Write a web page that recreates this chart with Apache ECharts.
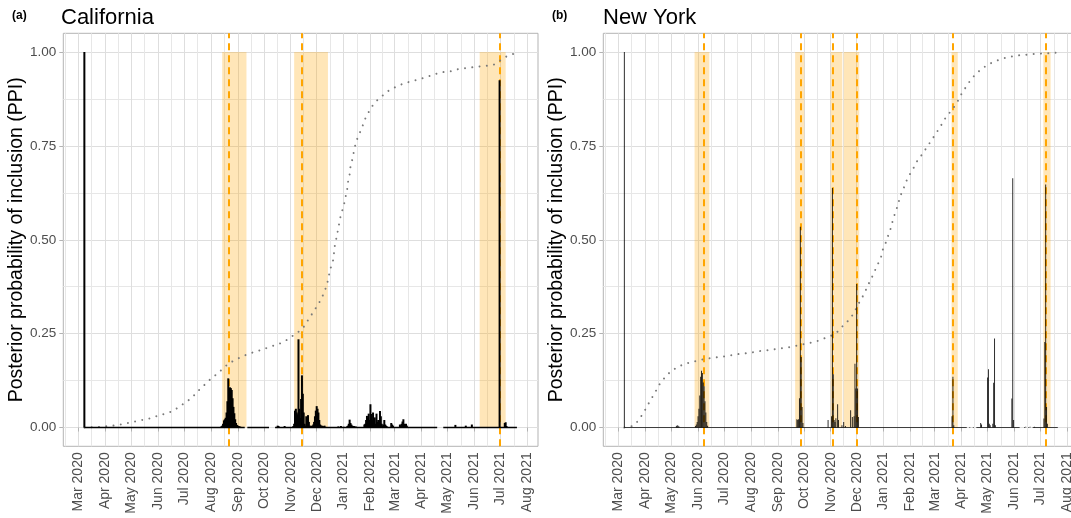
<!DOCTYPE html>
<html>
<head>
<meta charset="utf-8">
<script src="https://cdn.jsdelivr.net/npm/echarts@6/dist/echarts.min.js"></script>
<style>
html,body{margin:0;padding:0;background:#ffffff;}
#chart{width:1071px;height:518px;}
</style>
</head>
<body>
<div id="chart"></div>
<script>
// ---------------- data (x = days since 1 March 2020) ----------------
const xTickLabels = ['Mar 2020','Apr 2020','May 2020','Jun 2020','Jul 2020','Aug 2020','Sep 2020','Oct 2020',
  'Nov 2020','Dec 2020','Jan 2021','Feb 2021','Mar 2021','Apr 2021','May 2021','Jun 2021','Jul 2021','Aug 2021'];
const yTickValues = [0, 0.25, 0.5, 0.75, 1];
const yMinorValues = [0.125, 0.375, 0.625, 0.875];
const xRangeDays = [-17.3, 530.3];
const yRange = [-0.05, 1.05];

const panelTags = ['(a)', '(b)'];
const panelTitles = ['California', 'New York'];
const yTitle = 'Posterior probability of inclusion (PPI)';

// California: daily PPI (non-zero days)
const caPpi = [[7,1.0],
  [165,0.003],[166,0.005],[167,0.01],[168,0.019],[169,0.022],[170,0.026],[171,0.04],[172,0.07],[173,0.131],
  [174,0.095],[175,0.107],[176,0.105],[177,0.1],[178,0.078],[179,0.055],[180,0.038],[181,0.022],[182,0.012],
  [183,0.007],[184,0.005],[185,0.004],[186,0.003],[187,0.002],
  [230,0.005],[231,0.004],[238,0.004],
  [248,0.004],[249,0.01],[250,0.045],[251,0.05],[252,0.04],[253,0.035],[254,0.235],[255,0.05],[256,0.025],
  [257,0.076],[258,0.139],[259,0.09],[260,0.04],[261,0.01],[262,0.005],[263,0.03],[264,0.005],[265,0.033],
  [266,0.015],[267,0.005],[268,0.003],[269,0.005],[270,0.004],[271,0.008],[272,0.015],[273,0.03],[274,0.045],
  [275,0.057],[276,0.05],[277,0.04],[278,0.02],[279,0.008],[280,0.005],[281,0.005],[282,0.004],[283,0.003],
  [284,0.005],[285,0.002],
  [300,0.003],[303,0.004],[306,0.002],
  [310,0.003],[311,0.005],[312,0.01],[313,0.021],[314,0.012],[315,0.008],[316,0.005],[318,0.004],[320,0.003],
  [330,0.008],[331,0.01],[332,0.02],[333,0.031],[334,0.025],[335,0.037],[336,0.02],[337,0.062],[338,0.036],
  [339,0.02],[340,0.04],[341,0.015],[342,0.027],[343,0.01],[344,0.037],[345,0.015],[346,0.02],[347,0.01],
  [348,0.044],[349,0.03],[350,0.01],[351,0.005],[352,0.008],[353,0.02],[354,0.008],[355,0.005],[356,0.003],
  [361,0.012],[362,0.008],[363,0.005],[371,0.008],[372,0.005],[373,0.01],[374,0.016],[375,0.022],[376,0.01],
  [377,0.008],[378,0.01],[379,0.005],
  [435,0.007],[447,0.005],[454,0.008],[486,0.925],[492,0.012],[493,0.014],[494,0.004]];
// California: stretches of days with data (zero baseline)
const caBaseline = [[7,192],[195,220],[227,414],[421,506]];
// California: cumulative curve (dotted)
const caCum = [[7,0],[20,0.001],[37,0.004],[46,0.007],[55,0.011],[64,0.015],[73,0.02],[82,0.024],[90,0.03],
  [99,0.036],[108,0.043],[115,0.053],[123,0.066],[131,0.079],[137,0.095],[144,0.11],[150,0.124],[157,0.137],
  [164,0.151],[170,0.164],[177,0.175],[187,0.187],[195,0.195],[204,0.202],[213,0.208],[221,0.215],[231,0.222],
  [239,0.231],[246,0.242],[254,0.255],[260,0.268],[265,0.286],[270,0.304],[275,0.322],[280,0.341],[284,0.362],
  [287,0.382],[289,0.404],[291,0.424],[294,0.446],[296,0.486],[298,0.507],[301,0.544],[303,0.568],[306,0.588],
  [308,0.611],[310,0.631],[311,0.652],[313,0.674],[314,0.695],[316,0.713],[318,0.736],[320,0.757],[323,0.777],
  [327,0.796],[330,0.818],[334,0.836],[338,0.853],[344,0.87],[351,0.884],[358,0.897],[366,0.907],[375,0.916],
  [384,0.922],[392,0.927],[401,0.933],[410,0.94],[418,0.946],[428,0.948],[437,0.954],[446,0.957],[456,0.96],
  [464,0.962],[473,0.964],[479,0.966],[487,0.978],[495,0.99],[503,0.996]];
const caShade = [[166,194],[249,288],[463,493]];
const caDashed = [174,258,486];

// New York
const nyPpi = [[7,1.0],
  [67,0.004],[68,0.006],[69,0.005],[70,0.003],
  [89,0.004],[90,0.008],[91,0.015],[92,0.03],[93,0.05],[94,0.085],[95,0.135],[96,0.151],[97,0.145],[98,0.12],
  [99,0.11],[100,0.07],[101,0.04],[102,0.015],[103,0.005],
  [206,0.022],[207,0.02],[208,0.022],[209,0.078],[210,0.535],[211,0.188],[212,0.055],[213,0.012],
  [242,0.02],[246,0.03],[247,0.638],[248,0.142],[249,0.02],[250,0.015],[251,0.025],[253,0.062],[254,0.02],
  [258,0.006],[260,0.015],[262,0.004],
  [268,0.046],[270,0.028],[272,0.03],[273,0.17],[274,0.104],[275,0.382],[276,0.104],[277,0.028],
  [385,0.03],[386,0.135],[387,0.006],
  [418,0.012],[419,0.008],[426,0.133],[427,0.155],[428,0.01],[429,0.006],[432,0.01],[433,0.119],[434,0.237],[435,0.006],
  [454,0.077],[455,0.664],[456,0.02],
  [470,0.002],[475,0.002],[480,0.002],
  [491,0.024],[492,0.228],[493,0.647],[494,0.055],[495,0.01]];
const nyBaseline = [[7,402],[405,406],[409,410],[413,463],[468,469],[473,474],[478,507]];
const nyCum = [[7,0],[17,0.004],[23,0.018],[28,0.036],[33,0.055],[37,0.073],[42,0.091],[46,0.11],[51,0.126],
  [58,0.144],[64,0.155],[73,0.166],[82,0.173],[91,0.178],[99,0.182],[109,0.186],[118,0.188],[127,0.191],
  [136,0.195],[145,0.197],[154,0.2],[164,0.204],[173,0.206],[182,0.209],[191,0.212],[200,0.215],[209,0.22],
  [218,0.224],[227,0.228],[236,0.236],[245,0.244],[252,0.253],[258,0.268],[265,0.284],[271,0.302],[275,0.32],
  [279,0.338],[284,0.357],[287,0.375],[292,0.397],[295,0.413],[299,0.433],[303,0.453],[305,0.473],[309,0.495],
  [312,0.516],[315,0.535],[317,0.556],[320,0.575],[323,0.596],[325,0.615],[329,0.636],[332,0.655],[336,0.673],
  [341,0.693],[345,0.711],[351,0.729],[356,0.747],[361,0.764],[366,0.782],[371,0.799],[376,0.82],[381,0.835],
  [387,0.853],[392,0.871],[396,0.889],[401,0.907],[406,0.924],[412,0.941],[419,0.955],[426,0.966],[434,0.975],
  [444,0.983],[453,0.988],[461,0.991],[471,0.993],[479,0.995],[488,0.996],[498,0.997],[507,0.999]];
const nyShade = [[88,105],[204,214.5],[245,258.4],[260,278],[384.4,391.6],[490.3,498.7]];
const nyDashed = [99,211,247,275,386,493];

// ---------------- chart ----------------
const FONT = "'Liberation Sans', Arial, Helvetica, sans-serif";
const MONTHS = ['Jan','Feb','Mar','Apr','May','Jun','Jul','Aug','Sep','Oct','Nov','Dec'];
const T0 = new Date(2020, 2, 1).getTime();
const dayToTime = d => T0 + d * 86400000;
const labelToTime = s => { const p = s.split(' '); return new Date(+p[1], MONTHS.indexOf(p[0]), 1).getTime(); };
const majorX = xTickLabels.map(labelToTime);
const minorX = [];
{
  const firstPrev = new Date(2020, 1, 1).getTime();
  minorX.push((firstPrev + majorX[0]) / 2);
  for (let i = 0; i < majorX.length - 1; i++) minorX.push((majorX[i] + majorX[i + 1]) / 2);
}
const labelOf = v => { const k = majorX.indexOf(v); return k >= 0 ? xTickLabels[k] : ''; };

const gridLefts = [63.3, 603.3];
const grids = gridLefts.map(l => ({
  left: l, top: 33.3, width: 474.7, height: 413,
  show: true, borderColor: '#B3B3B3', borderWidth: 1, backgroundColor: 'transparent',
  containLabel: false, outerBoundsMode: 'none'
}));

const xAxes = [], yAxes = [];
[0, 1].forEach(i => {
  xAxes.push({
    type: 'value', gridIndex: i, position: 'bottom', scale: true,
    min: dayToTime(xRangeDays[0]), max: dayToTime(xRangeDays[1]),
    axisLine: { show: false },
    axisTick: { show: true, customValues: majorX, length: 4, lineStyle: { color: '#B3B3B3', width: 1 } },
    axisLabel: {
      customValues: majorX, rotate: 90, margin: 6, fontSize: 14, color: '#4D4D4D', fontFamily: FONT,
      formatter: v => labelOf(v), showMinLabel: true, showMaxLabel: true
    },
    splitLine: { show: true, lineStyle: { color: '#DEDEDE', width: 1 } }
  });
  xAxes.push({
    type: 'value', gridIndex: i, position: 'top', scale: true,
    min: dayToTime(xRangeDays[0]), max: dayToTime(xRangeDays[1]),
    axisLine: { show: false },
    axisTick: { show: false, customValues: minorX },
    axisLabel: { show: false },
    splitLine: { show: true, lineStyle: { color: '#E7E7E7', width: 1 } }
  });
  yAxes.push({
    type: 'value', gridIndex: i, position: 'left', min: yRange[0], max: yRange[1],
    axisLine: { show: false },
    axisTick: { show: true, customValues: yTickValues, length: 4, lineStyle: { color: '#B3B3B3', width: 1 } },
    axisLabel: { customValues: yTickValues, margin: 7, fontSize: 13.5, color: '#4D4D4D', fontFamily: FONT,
      formatter: v => v.toFixed(2) },
    splitLine: { show: true, lineStyle: { color: '#DEDEDE', width: 1 } },
    name: yTitle, nameLocation: 'middle', nameGap: 29.5,
    nameTextStyle: { fontSize: 19.5, color: '#000000', fontFamily: FONT }
  });
  yAxes.push({
    type: 'value', gridIndex: i, position: 'right', min: yRange[0], max: yRange[1],
    axisLine: { show: false },
    axisTick: { show: false, customValues: yMinorValues },
    axisLabel: { show: false },
    splitLine: { show: true, lineStyle: { color: '#E7E7E7', width: 1 } }
  });
});

function panelSeries(i, ppi, baseline, cum, shade, dashed, barW, lineW, barColor) {
  const xi = 2 * i, yi = 2 * i;
  const baseData = [];
  baseline.forEach(([a, b]) => { baseData.push([dayToTime(a), 0], [dayToTime(b), 0], [dayToTime(b + 0.5), '-']); });
  return [
    { type: 'line', xAxisIndex: xi, yAxisIndex: yi, data: [], silent: true, z: 1,
      markArea: { silent: true, z: 1, itemStyle: { color: 'rgba(255,165,0,0.28)' }, label: { show: false },
        data: shade.map(([a, b]) => [{ xAxis: dayToTime(a), yAxis: 0 }, { xAxis: dayToTime(b), yAxis: 1 }]) } },
    { type: 'line', xAxisIndex: xi, yAxisIndex: yi, data: [], silent: true, z: 2,
      markLine: { silent: true, z: 2, symbol: ['none', 'none'], label: { show: false }, animation: false,
        lineStyle: { color: '#FFA500', width: 2, type: [7, 5] },
        emphasis: { disabled: true },
        data: dashed.map(d => ({ xAxis: dayToTime(d) })) } },
    { type: 'line', xAxisIndex: xi, yAxisIndex: yi, silent: true, z: 3, showSymbol: false,
      data: cum.map(([d, v]) => [dayToTime(d), v]),
      lineStyle: { color: '#7A7A7A', width: 2, type: [0.01, 7.3], cap: 'round' } },
    { type: 'line', xAxisIndex: xi, yAxisIndex: yi, silent: true, z: 4, showSymbol: false,
      connectNulls: false, data: baseData, lineStyle: { color: barColor, width: lineW } },
    { type: 'bar', xAxisIndex: xi, yAxisIndex: yi, silent: true, z: 5, barWidth: barW,
      data: ppi.map(([d, v]) => [dayToTime(d), v]), itemStyle: { color: barColor } }
  ];
}

const titles = [];
[0, 1].forEach(i => {
  titles.push({ text: panelTags[i], left: [12, 552][i], top: 10, padding: 0,
    textStyle: { fontSize: 12, fontWeight: 'bold', color: '#000', fontFamily: FONT } });
  titles.push({ text: panelTitles[i], left: [61, 603][i], top: 7, padding: 0,
    textStyle: { fontSize: 22, fontWeight: 'normal', color: '#000', fontFamily: FONT } });
});

const option = {
  animation: false,
  backgroundColor: '#ffffff',
  textStyle: { fontFamily: FONT },
  title: titles,
  grid: grids,
  xAxis: xAxes,
  yAxis: yAxes,
  series: [].concat(
    panelSeries(0, caPpi, caBaseline, caCum, caShade, caDashed, 2, 1.6, '#000000'),
    panelSeries(1, nyPpi, nyBaseline, nyCum, nyShade, nyDashed, 1, 0.9, 'rgba(0,0,0,0.82)')
  )
};

const chart = echarts.init(document.getElementById('chart'), null, { renderer: 'canvas' });
chart.setOption(option);
</script>
</body>
</html>
